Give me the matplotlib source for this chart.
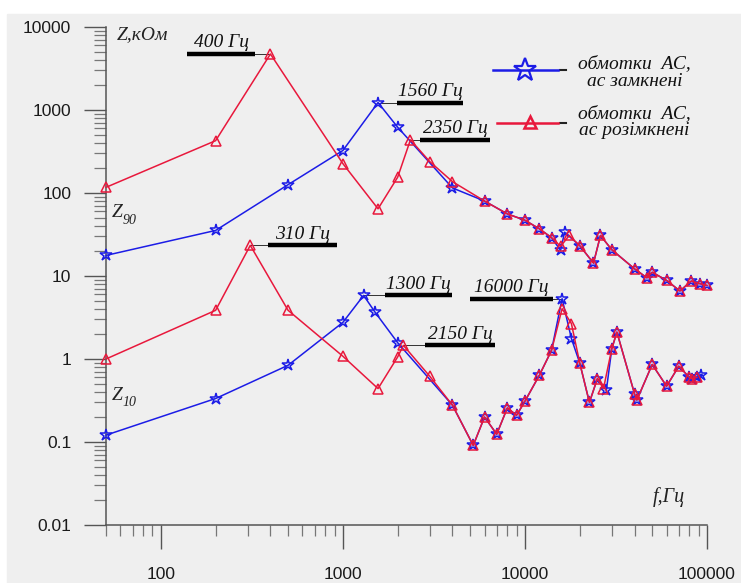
import numpy as np
import matplotlib
matplotlib.use('Agg')
import matplotlib.pyplot as plt
from matplotlib.patches import Rectangle
from matplotlib.ticker import FixedLocator, FixedFormatter, LogLocator, NullFormatter

# Z90, обмотки АС замкнені
f90_zam = [50, 200, 500, 1000, 1560, 2000, 4000, 6000, 8000, 10000, 12000, 14000,
           15700, 16500, 20000, 23800, 26000, 30000, 40000, 46800, 50000, 60000,
           71000, 82000, 91000, 100000]
z90_zam = [17.7, 35.4, 126, 325, 1230, 620, 115, 80, 56, 47, 37, 29,
           20.3, 33.7, 23.2, 14.3, 30.8, 20.7, 12.2, 9.5, 11.1, 8.85,
           6.6, 8.7, 8.1, 7.7]

# Z90, обмотки АС розімкнені
f90_roz = [50, 200, 400, 1000, 1560, 2000, 2350, 3000, 4000, 6000, 8000, 10000,
           12000, 14000, 15700, 17500, 20000, 23800, 26000, 30000, 40000, 46800,
           50000, 60000, 71000, 82000, 91000, 100000]
z90_roz = [117, 427, 4730, 226, 64.5, 155, 437, 239, 137, 80, 56, 47,
           37, 29, 22.7, 30.8, 23.2, 14.3, 30.8, 20.7, 12.2, 9.5,
           11.1, 8.85, 6.6, 8.7, 8.1, 7.7]

# Z10, обмотки АС замкнені
f10_zam = [50, 200, 500, 1000, 1300, 1500, 2000, 4000, 5200, 6000, 7000, 8000,
           9000, 10000, 12000, 14000, 16000, 18000, 20000, 22600, 25000, 28000,
           30000, 32000, 40000, 41200, 50000, 60000, 70000, 80000, 83000, 88000, 93000]
z10_zam = [0.121, 0.334, 0.84, 2.76, 5.84, 3.68, 1.57, 0.277, 0.091, 0.2, 0.124, 0.257,
           0.21, 0.31, 0.637, 1.27, 5.33, 1.76, 0.895, 0.30, 0.58, 0.42,
           1.33, 2.11, 0.38, 0.32, 0.86, 0.47, 0.82, 0.6, 0.58, 0.6, 0.65]

# Z10, обмотки АС розімкнені
f10_roz = [50, 200, 310, 500, 1000, 1560, 2000, 2150, 3000, 4000, 5200, 6000,
           7000, 8000, 9000, 10000, 12000, 14000, 16000, 18000, 20000, 22600,
           25000, 27000, 30000, 32000, 40000, 41200, 50000, 60000, 70000, 80000, 83000, 88000]
z10_roz = [1.0, 3.86, 23.4, 3.86, 1.08, 0.44, 1.06, 1.46, 0.62, 0.277, 0.091, 0.2,
           0.124, 0.257, 0.21, 0.31, 0.637, 1.27, 4.04, 2.67, 0.895, 0.30,
           0.58, 0.44, 1.33, 2.11, 0.38, 0.32, 0.86, 0.47, 0.82, 0.6, 0.58, 0.6]

# резонансні частоти: (підпис, частота, Z, початок і кінець риски)
rezonansy = [
    ('400 Гц', 400, 4730, 140, 330),
    ('310 Гц', 310, 23.4, 388, 930),
    ('1560 Гц', 1560, 1230, 1985, 4580),
    ('2350 Гц', 2350, 437, 2655, 6440),
    ('1300 Гц', 1300, 5.84, 1705, 3980),
    ('16000 Гц', 16000, 5.33, 5000, 14290),
    ('2150 Гц', 2150, 1.46, 2830, 6860),
]

y_ticks = [0.01, 0.1, 1, 10, 100, 1000, 10000]
y_labels = ['0.01', '0.1', '1', '10', '100', '1000', '10000']
x_ticks = [100, 1000, 10000, 100000]
x_labels = ['100', '1000', '10000', '100000']

blue = '#1c1ce6'
red = '#e8183c'
serif = 'Liberation Serif'

fig = plt.figure(figsize=(7.41, 5.83), dpi=100)
fig.patches.append(Rectangle((7 / 741, 0), 1, 1 - 14 / 583, transform=fig.transFigure,
                             color='#efefef', zorder=-10))
ax = fig.add_axes([106 / 741, 1 - 525 / 583, 601 / 741, 498 / 583])
ax.set_facecolor('none')
ax.set_xscale('log')
ax.set_yscale('log')
ax.set_xlim(50, 100000)
ax.set_ylim(0.01, 10000)

for f, z in [(f90_zam, z90_zam), (f10_zam, z10_zam)]:
    ax.plot(f, z, color=blue, lw=1.1, marker='*', ms=9, mfc='none', mec=blue, mew=1.1,
            clip_on=False, zorder=3)
for f, z in [(f90_roz, z90_roz), (f10_roz, z10_roz)]:
    ax.plot(f, z, color=red, lw=1.1, marker='^', ms=7, mfc='none', mec=red, mew=1.1,
            clip_on=False, zorder=4)

# підписи резонансів з рискою
for napys, fr, z, f0, f1 in rezonansy:
    if f1 < fr:
        ax.plot([f1, fr], [z, z], color='#333333', lw=0.7, zorder=2)
    else:
        ax.plot([fr, f0], [z, z], color='#333333', lw=0.7, zorder=2)
    ax.plot([f0, f1], [z, z], color='black', lw=3.2, solid_capstyle='butt', zorder=2)
    ax.annotate(napys, xy=(np.sqrt(f0 * f1), z), xytext=(0, 2), textcoords='offset points',
                ha='center', va='bottom', fontsize=14, family=serif, style='italic',
                color='#111111')

# осі
for s in ['top', 'right']:
    ax.spines[s].set_visible(False)
for s in ['left', 'bottom']:
    ax.spines[s].set_color('#555555')
    ax.spines[s].set_linewidth(1.1)

ax.yaxis.set_major_locator(FixedLocator(y_ticks))
ax.yaxis.set_major_formatter(FixedFormatter(y_labels))
ax.yaxis.set_minor_locator(LogLocator(base=10, subs=np.arange(2, 10), numticks=20))
ax.yaxis.set_minor_formatter(NullFormatter())
ax.xaxis.set_major_locator(FixedLocator(x_ticks))
ax.xaxis.set_major_formatter(FixedFormatter(x_labels))
ax.xaxis.set_minor_locator(LogLocator(base=10, subs=np.arange(2, 10), numticks=20))
ax.xaxis.set_minor_formatter(NullFormatter())

ax.tick_params(axis='y', which='major', length=16, width=1.0, color='#555555', pad=9,
               labelsize=12.5, labelcolor='#1a1a1a')
ax.tick_params(axis='y', which='minor', length=9, width=0.9, color='#777777')
ax.tick_params(axis='x', which='major', length=17, width=1.0, color='#555555', pad=13,
               labelsize=12.5, labelcolor='#1a1a1a')
ax.tick_params(axis='x', which='minor', length=8, width=0.9, color='#777777')
for lbl in ax.get_xticklabels() + ax.get_yticklabels():
    lbl.set_family('Liberation Sans')

# назви величин
ax.text(0.018, 0.984, 'Z,кОм', transform=ax.transAxes, fontsize=14, family=serif,
        style='italic', va='center', ha='left', color='#222222')
ax.text(0.01, 0.628, 'Z', transform=ax.transAxes, fontsize=14, family=serif,
        style='italic', va='center', ha='left', color='#222222')
ax.text(0.027, 0.612, '90', transform=ax.transAxes, fontsize=10, family=serif,
        style='italic', va='center', ha='left', color='#222222')
ax.text(0.01, 0.261, 'Z', transform=ax.transAxes, fontsize=14, family=serif,
        style='italic', va='center', ha='left', color='#222222')
ax.text(0.027, 0.245, '10', transform=ax.transAxes, fontsize=10, family=serif,
        style='italic', va='center', ha='left', color='#222222')
ax.text(0.91, 0.056, 'f,Гц', transform=ax.transAxes, fontsize=14.5, family=serif,
        style='italic', va='center', ha='left', color='#222222')

# легенда
ax.plot([0.644, 0.752], [0.914, 0.914], transform=ax.transAxes, color=blue, lw=1.8,
        clip_on=False, zorder=5)
ax.plot([0.697], [0.914], transform=ax.transAxes, marker='*', ms=17, mfc='none', mec=blue,
        mew=1.6, clip_on=False, zorder=6)
ax.plot([0.651, 0.752], [0.807, 0.807], transform=ax.transAxes, color=red, lw=1.8,
        clip_on=False, zorder=5)
ax.plot([0.705], [0.810], transform=ax.transAxes, marker='^', ms=9, mfc='none', mec=red,
        mew=1.8, clip_on=False, zorder=6)
for yy in [0.914, 0.807]:
    ax.plot([0.756, 0.766], [yy, yy], transform=ax.transAxes, color='#222222', lw=1.5,
            clip_on=False)
ax.text(0.879, 0.909, 'обмотки  АС,\nас замкнені', transform=ax.transAxes, fontsize=14,
        family=serif, style='italic', ha='center', va='center', multialignment='center',
        linespacing=1.05, color='#111111')
ax.text(0.879, 0.809, 'обмотки  АС,\nас розімкнені', transform=ax.transAxes, fontsize=14,
        family=serif, style='italic', ha='center', va='center', multialignment='center',
        linespacing=1.05, color='#111111')

fig.savefig('out.png', dpi=100, facecolor='white')
